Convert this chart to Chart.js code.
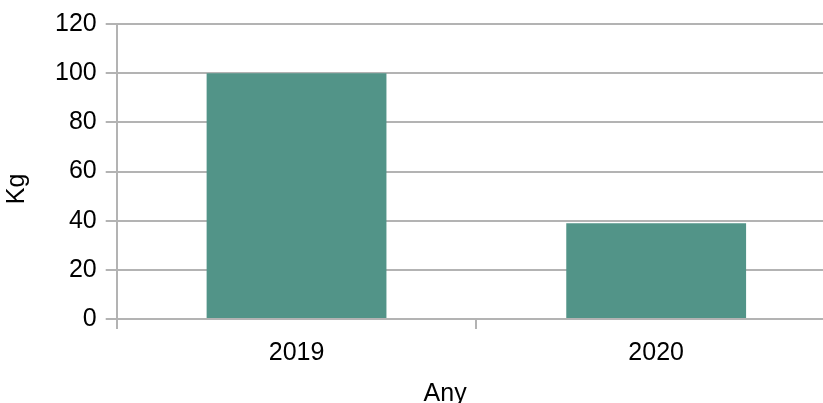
<!DOCTYPE html>
<html>
<head>
<meta charset="utf-8">
<script src="https://cdn.jsdelivr.net/npm/chart.js@4/dist/chart.umd.min.js"></script>
<style>
  html, body { margin: 0; padding: 0; background: #fff; overflow: hidden; }
  #wrap { position: relative; width: 840px; height: 409px; }
</style>
</head>
<body>
<div id="wrap"><canvas id="myChart"></canvas></div>
<script>
// dades del gràfic
const years = ['2019', '2020'];
const kgValues = [100, 39];
const yTicks = [0, 20, 40, 60, 80, 100, 120];

const xTitle = 'Any';
const yTitle = 'Kg';

const gridColor = '#b3b3b3';
const fontFamily = '"Liberation Sans", Arial, sans-serif';

document.addEventListener('DOMContentLoaded', function () {
    const ctx = document.getElementById('myChart').getContext('2d');
    new Chart(ctx, {
        type: 'bar',
        data: {
            labels: years,
            datasets: [{
                data: kgValues,
                backgroundColor: '#529488',
                borderWidth: 0,
                barPercentage: 0.5,
                categoryPercentage: 1.0
            }]
        },
        options: {
            responsive: true,
            maintainAspectRatio: false,
            animation: false,
            layout: { padding: { top: 20, right: 4, left: 2, bottom: 0 } },
            plugins: {
                legend: { display: false },
                tooltip: { enabled: false }
            },
            scales: {
                x: {
                    grid: {
                        display: true,
                        drawOnChartArea: false,
                        drawTicks: true,
                        tickLength: 10,
                        color: gridColor,
                        lineWidth: 2,
                        offset: true
                    },
                    border: { display: true, color: gridColor, width: 2 },
                    ticks: {
                        color: '#000',
                        padding: 9,
                        font: { family: fontFamily, size: 25 }
                    },
                    title: {
                        display: true,
                        // espais finals per desplaçar el títol a l'esquerra
                        text: xTitle + '\u00a0'.repeat(9),
                        color: '#000',
                        padding: { top: 2, bottom: 0 },
                        font: { family: fontFamily, size: 25 }
                    }
                },
                y: {
                    min: 0,
                    max: 120,
                    afterBuildTicks: function (scale) {
                        scale.ticks = yTicks.map(v => ({ value: v }));
                    },
                    grid: {
                        color: gridColor,
                        lineWidth: 2,
                        drawTicks: true,
                        tickLength: 11
                    },
                    border: { display: true, color: gridColor, width: 2 },
                    ticks: {
                        color: '#000',
                        padding: 9,
                        font: { family: fontFamily, size: 25 }
                    },
                    title: {
                        display: true,
                        text: yTitle + '\u00a0'.repeat(5),
                        color: '#000',
                        padding: { top: 0, bottom: 14 },
                        font: { family: fontFamily, size: 25 }
                    }
                }
            }
        }
    });
});
</script>
</body>
</html>
